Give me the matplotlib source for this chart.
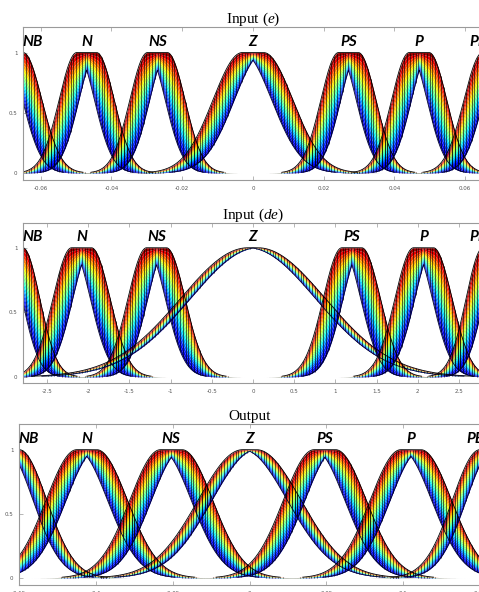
import numpy as np
import matplotlib.pyplot as plt

plt.rcParams['mathtext.fontset'] = 'custom'
plt.rcParams['mathtext.it'] = 'Liberation Serif:italic'
plt.rcParams['mathtext.rm'] = 'Liberation Serif'

mf_labels = ['NB', 'N', 'NS', 'Z', 'PS', 'P', 'PB']

# Input e : centre, sigma and half-width of the uncertain mean
e_centers = [-0.0677, -0.047, -0.027, 0.0, 0.027, 0.047, 0.0677]
e_sigmas = [0.0053, 0.005, 0.005, 0.0083, 0.005, 0.005, 0.0053]
e_spreads = [0.00275, 0.0028, 0.0028, 0.003, 0.0028, 0.0028, 0.00275]
e_ticks = [-0.06, -0.04, -0.02, 0, 0.02, 0.04, 0.06]
e_ticklabels = ['-0.06', '-0.04', '-0.02', '0', '0.02', '0.04', '0.06']

# Input de
de_centers = [-2.9, -2.08, -1.17, 0.0, 1.2, 2.07, 2.9]
de_sigmas = [0.206, 0.227, 0.227, 0.82, 0.227, 0.227, 0.206]
de_spreads = [0.108, 0.12, 0.12, 0.06, 0.12, 0.12, 0.108]
de_ticks = [-2.5, -2, -1.5, -1, -0.5, 0, 0.5, 1, 1.5, 2, 2.5]
de_ticklabels = ['-2.5', '-2', '-1.5', '-1', '-0.5', '0', '0.5', '1', '1.5', '2', '2.5']

# Output
out_centers = [-0.1545, -0.106, -0.051, 0.0, 0.049, 0.105, 0.1545]
out_sigmas = [0.018, 0.02, 0.02, 0.029, 0.02, 0.02, 0.018]
out_spreads = [0.0045, 0.0065, 0.007, 0.0045, 0.007, 0.0065, 0.0045]
out_ticks = [-0.15, -0.1, -0.05, 0, 0.05, 0.1, 0.15]
out_ticklabels = ['-0.15', '-0.1', '-0.05', '0', '0.05', '0.1', '0.15']

y_ticks = [0, 0.5, 1]
y_ticklabels = ['0', '0.5', '1']

jet = plt.get_cmap('jet')
n_layers = 16
gray = '#9a9a9a'


def it2_gauss(x, c, s, d):
    g1 = np.exp(-0.5*((x - (c - d))/s)**2)
    g2 = np.exp(-0.5*((x - (c + d))/s)**2)
    upper = np.where(x < c - d, g1, np.where(x > c + d, g2, 1.0))
    lower = np.minimum(g1, g2)
    return lower, upper


def draw_panel(ax, centers, sigmas, spreads, xlim, ylim, ticks, ticklabels, title):
    x = np.linspace(xlim[0], xlim[1], 2000)
    xs = np.linspace(xlim[0], xlim[1], 165)  # black stripes
    for c, s, d in zip(centers, sigmas, spreads):
        lo, up = it2_gauss(x, c, s, d)
        for k in range(n_layers):
            y0 = lo + (up - lo)*k/n_layers
            y1 = lo + (up - lo)*(k + 1)/n_layers
            ax.fill_between(x, y0, y1, color=jet((k + 0.5)/n_layers), lw=0)
        lo_s, up_s = it2_gauss(xs, c, s, d)
        keep = up_s - lo_s > 0.004
        ax.vlines(xs[keep], lo_s[keep], up_s[keep], colors='k', lw=0.5, alpha=0.85)
        ax.plot(x, np.where(up > 0.006, up, np.nan), color='k', lw=0.6)
        ax.plot(x, np.where(lo > 0.006, lo, np.nan), color='#000033', lw=0.6)

    margin = 0.02*(xlim[1] - xlim[0])
    for lab, c in zip(mf_labels, centers):
        xl = min(max(c, xlim[0] + margin), xlim[1] - 0.5*margin)
        ax.text(xl, 1.085, lab, ha='center', va='center', fontsize=11,
                fontfamily='Lato', fontweight='bold', fontstyle='italic')

    ax.set_xlim(xlim)
    ax.set_ylim(ylim)
    ax.set_xticks(ticks)
    ax.set_xticklabels(ticklabels)
    ax.set_yticks(y_ticks)
    ax.set_yticklabels(y_ticklabels)
    ax.tick_params(direction='in', length=3, width=0.5, color=gray,
                   labelsize=4, labelcolor='#555555', top=True, pad=4)
    for sp in ax.spines.values():
        sp.set_color(gray)
        sp.set_linewidth(0.8)
    ax.set_title(title, fontsize=11, fontfamily='Liberation Serif', pad=3)


fig = plt.figure(figsize=(4.79, 5.92), dpi=100)
ax1 = fig.add_axes([0.048, 0.696, 0.96, 0.258])
ax2 = fig.add_axes([0.048, 0.353, 0.96, 0.270])
ax3 = fig.add_axes([0.040, 0.0118, 0.962, 0.272])

draw_panel(ax1, e_centers, e_sigmas, e_spreads, (-0.065, 0.065), (-0.058, 1.21),
           e_ticks, e_ticklabels, r'Input ($e$)')
draw_panel(ax2, de_centers, de_sigmas, de_spreads, (-2.79, 2.79), (-0.047, 1.19),
           de_ticks, de_ticklabels, r'Input ($de$)')
draw_panel(ax3, out_centers, out_sigmas, out_spreads, (-0.15, 0.15), (-0.055, 1.2),
           out_ticks, out_ticklabels, 'Output')

fig.savefig('out.png', dpi=100)
